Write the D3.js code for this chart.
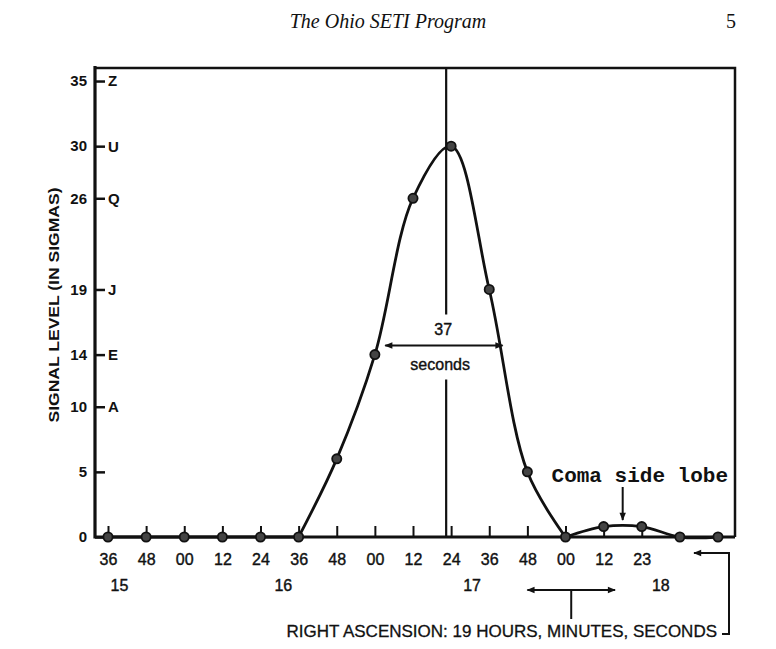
<!DOCTYPE html>
<html>
<head>
<meta charset="utf-8">
<script src="https://cdn.jsdelivr.net/npm/d3@7"></script>
<style>
body{margin:0;background:#fff}
svg{display:block}
</style>
</head>
<body>
<div id="chart"></div>
<script>
"use strict"

// one sample every 12 s of right ascension
var secLabels = ["36","48","00","12","24","36","48","00","12","24","36","48","00","12","23"];
var signal = [0,0,0,0,0,0,6,14,26,30,19,5,0,0.8,0.8,0,0];
var minuteLabels = ["15","16","17","18"];
var minuteAt = [0.3,4.6,9.55,14.5];
var sigmaTicks = [0,5,10,14,19,26,30,35];
var sigmaCodes = ["","","A","E","J","Q","U","Z"];
var peakAt = 8.87;
var fwhm = [7.27,10.35], fwhmLevel = 14.7;
var lobeAt = 13.5;
var spanArrow = [11.0,13.3], spanStem = 12.15;

var W = 776, H = 649,
    ink = "#111",
    sans = "'Liberation Sans', Arial, sans-serif",
    serif = "'Liberation Serif', 'Times New Roman', serif",
    frame = {l:95, r:735, t:68, b:537};

var svg = d3.select("#chart").append("svg")
    .attr("width", W).attr("height", H)
    .style("background", "#fff");

var x = d3.scaleLinear().domain([0, signal.length-1]).range([108, 718]);
var y = d3.scaleLinear().domain([0, 36]).range([frame.b, frame.t]);

var defs = svg.append("defs");
defs.append("marker").attr("id","head")
    .attr("viewBox","0 0 10 10").attr("refX",9).attr("refY",5)
    .attr("markerWidth",10).attr("markerHeight",8)
    .attr("markerUnits","userSpaceOnUse")
    .attr("orient","auto-start-reverse")
  .append("path").attr("d","M0,1L10,5L0,9Z").attr("fill",ink);

// page header
svg.append("text").attr("x", 388).attr("y", 28)
    .attr("text-anchor","middle")
    .style("font", "italic 20px "+serif)
    .attr("fill", ink).text("The Ohio SETI Program");
svg.append("text").attr("x", 736).attr("y", 28)
    .attr("text-anchor","end")
    .style("font", "20px "+serif)
    .attr("fill", ink).text("5");

// frame
svg.append("path")
    .attr("d", "M"+frame.l+","+frame.t+"H"+frame.r+"V"+frame.b)
    .attr("fill","none").attr("stroke",ink).attr("stroke-width",2.5);
svg.append("path")
    .attr("d", "M"+frame.l+","+(frame.t-2)+"V"+frame.b+"H"+frame.r)
    .attr("fill","none").attr("stroke",ink).attr("stroke-width",3.2);

// x axis
var xAxis = svg.append("g")
    .attr("transform","translate(0,"+frame.b+")")
    .call(d3.axisBottom(x)
        .tickValues(d3.range(secLabels.length))
        .tickFormat(function(d){ return secLabels[d]; })
        .tickSize(-11).tickPadding(17));
xAxis.select(".domain").remove();
xAxis.selectAll(".tick line").attr("stroke",ink).attr("stroke-width",2);
xAxis.selectAll(".tick text")
    .attr("fill",ink).attr("stroke",ink).attr("stroke-width",0.4)
    .style("font","16px "+sans);

svg.append("g").selectAll("text").data(minuteLabels).join("text")
    .attr("x", function(d,i){ return x(minuteAt[i]); })
    .attr("y", 591)
    .attr("text-anchor","middle")
    .attr("fill",ink).attr("stroke",ink).attr("stroke-width",0.4)
    .style("font","16px "+sans)
    .text(function(d){ return d; });

// y axis
var yAxis = svg.append("g")
    .attr("transform","translate("+frame.l+",0)")
    .call(d3.axisLeft(y).tickValues(sigmaTicks).tickSize(-10).tickPadding(8));
yAxis.select(".domain").remove();
yAxis.selectAll(".tick line").attr("stroke",ink).attr("stroke-width",2.5);
yAxis.selectAll(".tick text")
    .attr("fill",ink).style("font","bold 15px "+sans);

svg.append("g").selectAll("text").data(sigmaCodes).join("text")
    .attr("x", frame.l+13)
    .attr("y", function(d,i){ return y(sigmaTicks[i]); })
    .attr("dy","0.36em")
    .attr("fill",ink).style("font","bold 15px "+sans)
    .text(function(d){ return d; });

svg.append("text")
    .attr("transform","translate(59,305) rotate(-90)")
    .attr("text-anchor","middle")
    .attr("textLength",235).attr("lengthAdjust","spacingAndGlyphs")
    .attr("fill",ink).style("font","bold 15px "+sans)
    .text("SIGNAL LEVEL (IN SIGMAS)");

// peak marker line, broken around the width label
var gapTop = y(fwhmLevel)-31, gapBot = y(fwhmLevel)+34;
svg.append("path")
    .attr("d","M"+x(peakAt)+","+frame.t+"V"+gapTop+"M"+x(peakAt)+","+gapBot+"V"+frame.b)
    .attr("stroke",ink).attr("stroke-width",2.2);

// signal curve
var pts = signal.map(function(v,i){ return {i:i, v:v}; });
var line = d3.line()
    .x(function(d){ return x(d.i); })
    .y(function(d){ return y(d.v); })
    .curve(d3.curveCatmullRom);
[[0,5],[5,12],[12,16]].forEach(function(s){
    svg.append("path").datum(pts.slice(s[0], s[1]+1))
        .attr("d", line)
        .attr("fill","none").attr("stroke",ink).attr("stroke-width",2.8);
});

svg.append("g").selectAll("circle").data(pts).join("circle")
    .attr("cx", function(d){ return x(d.i); })
    .attr("cy", function(d){ return y(d.v); })
    .attr("r", 4.6)
    .attr("fill","#444").attr("stroke",ink).attr("stroke-width",1.8);

// 37 seconds width
svg.append("line")
    .attr("x1",x(fwhm[0])).attr("x2",x(fwhm[1]))
    .attr("y1",y(fwhmLevel)).attr("y2",y(fwhmLevel))
    .attr("stroke",ink).attr("stroke-width",2)
    .attr("marker-start","url(#head)").attr("marker-end","url(#head)");
svg.append("text").attr("x",x(peakAt)-3).attr("y",y(fwhmLevel)-10)
    .attr("text-anchor","middle").attr("fill",ink)
    .attr("stroke",ink).attr("stroke-width",0.4)
    .style("font","16px "+sans).text("37");
svg.append("text").attr("x",x(peakAt)-6).attr("y",y(fwhmLevel)+25)
    .attr("text-anchor","middle").attr("fill",ink)
    .attr("stroke",ink).attr("stroke-width",0.4)
    .style("font","16px "+sans).text("seconds");

// side lobe note
svg.append("text").attr("x",frame.r-7).attr("y",482)
    .attr("text-anchor","end").attr("fill",ink)
    .style("font","bold 21px 'Liberation Mono', 'Courier New', monospace")
    .text("Coma side lobe");
svg.append("line")
    .attr("x1",x(lobeAt)).attr("x2",x(lobeAt))
    .attr("y1",487).attr("y2",y(1.3))
    .attr("stroke",ink).attr("stroke-width",2)
    .attr("marker-end","url(#head)");

// RA caption with its arrows
svg.append("line")
    .attr("x1",x(spanArrow[0])).attr("x2",x(spanArrow[1]))
    .attr("y1",590).attr("y2",590)
    .attr("stroke",ink).attr("stroke-width",2)
    .attr("marker-start","url(#head)").attr("marker-end","url(#head)");
svg.append("line")
    .attr("x1",x(spanStem)).attr("x2",x(spanStem))
    .attr("y1",590).attr("y2",619)
    .attr("stroke",ink).attr("stroke-width",2);
svg.append("text").attr("x",717).attr("y",637)
    .attr("text-anchor","end").attr("fill",ink)
    .attr("stroke",ink).attr("stroke-width",0.3)
    .style("font","17px "+sans)
    .text("RIGHT ASCENSION: 19 HOURS, MINUTES, SECONDS");
svg.append("path")
    .attr("d","M722,634H729V553H694")
    .attr("fill","none").attr("stroke",ink).attr("stroke-width",2)
    .attr("marker-end","url(#head)");
</script>
</body>
</html>
